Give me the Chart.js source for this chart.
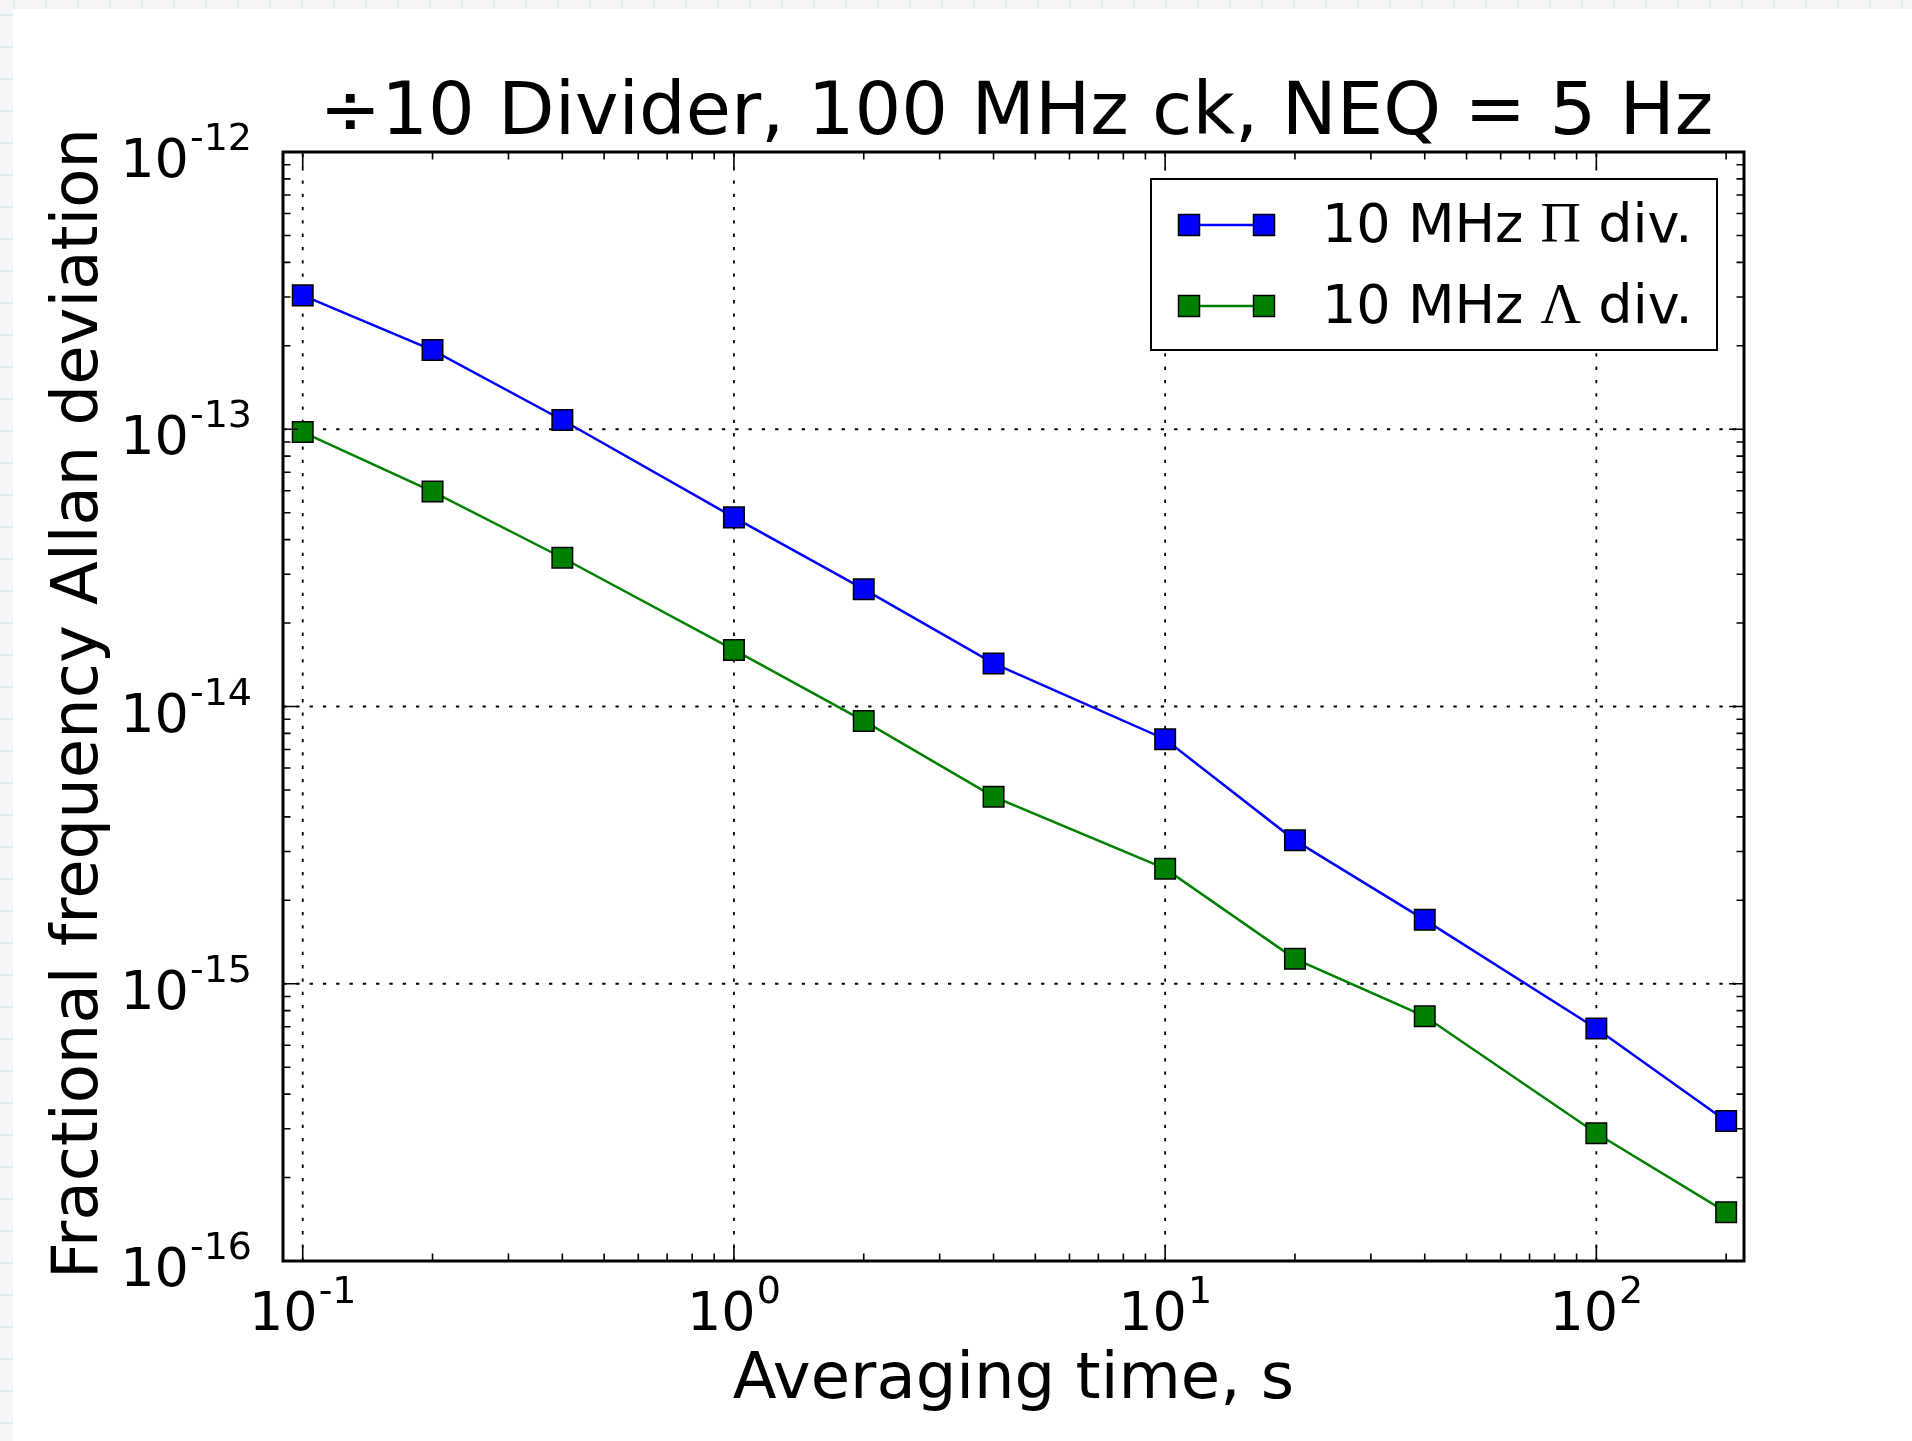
<!DOCTYPE html>
<html>
<head>
<meta charset="utf-8">
<title>Divider Allan deviation</title>
<script src="https://cdn.jsdelivr.net/npm/chart.js@4.4.1/dist/chart.umd.min.js"></script>
<style>
    html, body {
        margin: 0;
        padding: 0;
        width: 1912px;
        height: 1441px;
        overflow: hidden;
        background-color: #f4f6f7;
        background-image:
            linear-gradient(to right, #e1ecf0 2px, transparent 2px),
            linear-gradient(to bottom, #e1ecf0 2px, transparent 2px);
        background-size: 32px 32px;
        background-position: 13px 14px;
    }
    #panel {
        position: absolute;
        left: 13px;
        top: 9px;
        width: 1899px;
        height: 1432px;
        background: #ffffff;
    }
</style>
</head>
<body>
<div id="panel"><canvas id="chart" width="1899" height="1432"></canvas></div>
<script>
// Data
const averagingTimes = [0.1, 0.2, 0.4, 1, 2, 4, 10, 20, 40, 100, 200];
const piDivider = [3.04e-13, 1.93e-13, 1.08e-13, 4.81e-14, 2.65e-14, 1.43e-14, 7.62e-15, 3.29e-15, 1.70e-15, 6.9e-16, 3.2e-16];
const lambdaDivider = [9.77e-14, 5.96e-14, 3.44e-14, 1.60e-14, 8.87e-15, 4.73e-15, 2.60e-15, 1.23e-15, 7.63e-16, 2.89e-16, 1.50e-16];

// Axis ticks (base 10, exponent shown as superscript)
const xTickValues = [0.1, 1, 10, 100];
const xTickExponents = ["-1", "0", "1", "2"];
const yTickValues = [1e-16, 1e-15, 1e-14, 1e-13, 1e-12];
const yTickExponents = ["-16", "-15", "-14", "-13", "-12"];

const chartTitle = "\u00F710 Divider, 100 MHz ck, NEQ = 5 Hz";
const xAxisTitle = "Averaging time, s";
const yAxisTitle = "Fractional frequency Allan deviation";

const legendRows = [
    { pre: "10 MHz ", greek: "\u03A0", post: " div.", color: "#0000ff" },
    { pre: "10 MHz ", greek: "\u039B", post: " div.", color: "#008000" }
];

const SANS = '"DejaVu Sans", sans-serif';
const SERIF = '"Liberation Serif", "DejaVu Serif", serif';

// Minor tick values (2..9 per decade) inside [min, max]
function minorValues(min, max) {
    const out = [];
    for (let e = Math.floor(Math.log10(min)) - 1; e <= Math.ceil(Math.log10(max)); e++) {
        for (let k = 2; k <= 9; k++) {
            const v = k * Math.pow(10, e);
            if (v >= min * 0.9999 && v <= max * 1.0001) out.push(v);
        }
    }
    return out;
}

function drawPower(ctx, exp, x, y, align) {
    ctx.font = "54px " + SANS;
    const w1 = ctx.measureText("10").width;
    ctx.font = "38px " + SANS;
    const w2 = ctx.measureText(exp).width;
    const total = w1 + w2 + 1;
    let start = x - total / 2;
    if (align === "right") start = x - total;
    ctx.textAlign = "left";
    ctx.textBaseline = "alphabetic";
    ctx.font = "54px " + SANS;
    ctx.fillText("10", start, y);
    ctx.font = "38px " + SANS;
    ctx.fillText(exp, start + w1 + 1, y - 27);
}

const gridPlugin = {
    id: "dottedGrid",
    beforeDatasetsDraw(chart) {
        const { ctx, chartArea: a, scales: { x, y } } = chart;
        ctx.save();
        ctx.strokeStyle = "#000";
        ctx.lineWidth = 1.8;
        ctx.setLineDash([3.3, 10]);
        xTickValues.forEach(v => {
            const px = x.getPixelForValue(v);
            ctx.beginPath();
            ctx.moveTo(px, a.bottom);
            ctx.lineTo(px, a.top);
            ctx.stroke();
        });
        yTickValues.forEach(v => {
            const py = y.getPixelForValue(v);
            ctx.beginPath();
            ctx.moveTo(a.left, py);
            ctx.lineTo(a.right, py);
            ctx.stroke();
        });
        ctx.restore();
    }
};

const framePlugin = {
    id: "frameAndText",
    afterDatasetsDraw(chart) {
        const { ctx, chartArea: a, scales: { x, y } } = chart;
        ctx.save();

        // ticks pointing inwards on all four sides
        ctx.strokeStyle = "#000";
        ctx.lineWidth = 1.6;
        const tick = (len, vals, scale, horizontal) => {
            vals.forEach(v => {
                const p = scale.getPixelForValue(v);
                ctx.beginPath();
                if (horizontal) {
                    ctx.moveTo(p, a.bottom); ctx.lineTo(p, a.bottom - len);
                    ctx.moveTo(p, a.top); ctx.lineTo(p, a.top + len);
                } else {
                    ctx.moveTo(a.left, p); ctx.lineTo(a.left + len, p);
                    ctx.moveTo(a.right, p); ctx.lineTo(a.right - len, p);
                }
                ctx.stroke();
            });
        };
        tick(7.5, minorValues(x.min, x.max), x, true);
        tick(7.5, minorValues(y.min, y.max), y, false);
        tick(15, xTickValues, x, true);
        tick(15, yTickValues, y, false);

        // frame
        ctx.lineWidth = 3;
        ctx.strokeRect(a.left, a.top, a.right - a.left, a.bottom - a.top);

        // tick labels
        ctx.fillStyle = "#000";
        xTickValues.forEach((v, i) => drawPower(ctx, xTickExponents[i], x.getPixelForValue(v), a.bottom + 69, "center"));
        yTickValues.forEach((v, i) => drawPower(ctx, yTickExponents[i], a.left - 31, y.getPixelForValue(v) + 25, "right"));

        // title and axis titles
        ctx.textAlign = "center";
        ctx.textBaseline = "alphabetic";
        ctx.font = "73.5px " + SANS;
        ctx.fillText(chartTitle, (a.left + a.right) / 2 + 3, a.top - 18);
        ctx.font = "64px " + SANS;
        ctx.fillText(xAxisTitle, (a.left + a.right) / 2, a.bottom + 137);
        ctx.save();
        ctx.translate(a.left - 186, (a.top + a.bottom) / 2 - 3);
        ctx.rotate(-Math.PI / 2);
        ctx.font = "64px " + SANS;
        ctx.fillText(yAxisTitle, 0, 0);
        ctx.restore();

        // legend
        const boxW = 566, boxH = 171;
        const bx = a.right - 27 - boxW, by = a.top + 27;
        ctx.fillStyle = "#fff";
        ctx.fillRect(bx, by, boxW, boxH);
        ctx.lineWidth = 2;
        ctx.strokeStyle = "#000";
        ctx.strokeRect(bx, by, boxW, boxH);
        legendRows.forEach((row, i) => {
            const ry = by + 46 + i * 81;
            ctx.strokeStyle = row.color;
            ctx.lineWidth = 2.5;
            ctx.beginPath();
            ctx.moveTo(bx + 28, ry);
            ctx.lineTo(bx + 123, ry);
            ctx.stroke();
            [bx + 38, bx + 113].forEach(mx => {
                ctx.fillStyle = row.color;
                ctx.fillRect(mx - 10.5, ry - 10.5, 21, 21);
                ctx.strokeStyle = "#000";
                ctx.lineWidth = 1.5;
                ctx.strokeRect(mx - 10.5, ry - 10.5, 21, 21);
            });
            ctx.fillStyle = "#000";
            ctx.textAlign = "left";
            let tx = bx + 171;
            ctx.font = "54px " + SANS;
            ctx.fillText(row.pre, tx, ry + 17);
            tx += ctx.measureText(row.pre).width;
            ctx.font = "56px " + SERIF;
            ctx.fillText(row.greek, tx, ry + 17);
            tx += ctx.measureText(row.greek).width;
            ctx.font = "54px " + SANS;
            ctx.fillText(row.post, tx, ry + 17);
        });

        ctx.restore();
    }
};

function seriesPoints(values) {
    return averagingTimes.map((t, i) => ({ x: t, y: values[i] }));
}

function makeDataset(label, values, color) {
    return {
        label: label,
        data: seriesPoints(values),
        borderColor: color,
        backgroundColor: color,
        borderWidth: 2.5,
        tension: 0,
        pointStyle: "rect",
        pointRadius: 14.5,
        pointBackgroundColor: color,
        pointBorderColor: "#000",
        pointBorderWidth: 1.5
    };
}

new Chart(document.getElementById("chart"), {
    type: "line",
    data: {
        datasets: [
            makeDataset("10 MHz \u03A0 div.", piDivider, "#0000ff"),
            makeDataset("10 MHz \u039B div.", lambdaDivider, "#008000")
        ]
    },
    options: {
        responsive: false,
        animation: false,
        events: [],
        layout: { padding: { left: 270, top: 143, right: 168, bottom: 180 } },
        plugins: {
            legend: { display: false },
            title: { display: false },
            tooltip: { enabled: false }
        },
        scales: {
            x: { type: "logarithmic", display: false, min: 0.09, max: 220 },
            y: { type: "logarithmic", display: false, min: 1e-16, max: 1e-12 }
        }
    },
    plugins: [gridPlugin, framePlugin]
});
</script>
</body>
</html>
